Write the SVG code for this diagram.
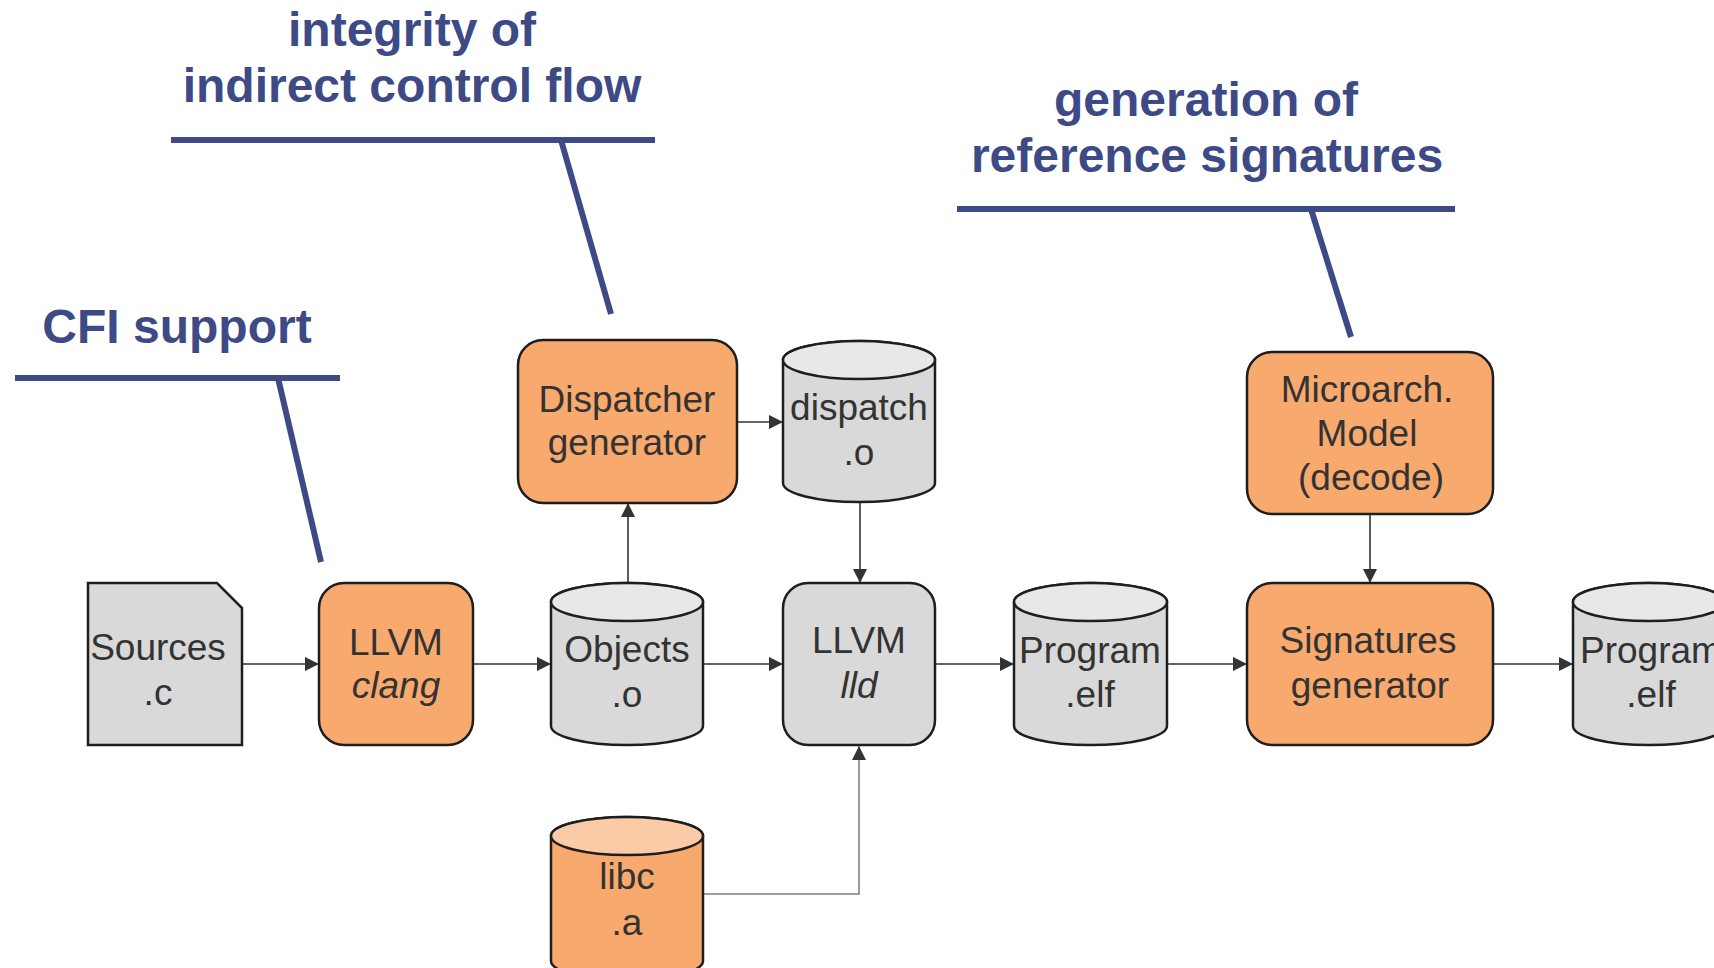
<svg xmlns="http://www.w3.org/2000/svg" width="1714" height="968" viewBox="0 0 1714 968">
<defs>
<style>
.lbl{font-family:"Liberation Sans",Arial,sans-serif;font-weight:bold;font-size:48px;fill:#3D4A86;text-anchor:middle}
.cal{stroke:#3D4A86;stroke-width:6;fill:none}
.t{font-family:"Liberation Sans",Arial,sans-serif;font-size:37px;fill:#333333;text-anchor:middle}
.it{font-style:italic}
.orange{fill:#F8A96E;stroke:#1E1E1E;stroke-width:2.5}
.gray{fill:#D9D9D9;stroke:#1E1E1E;stroke-width:2.5}
.graytop{fill:#E8E8E8;stroke:#1E1E1E;stroke-width:2.5}
.orangetop{fill:#FBCBA8;stroke:#1E1E1E;stroke-width:2.5}
.edge{stroke:#333333;stroke-width:1.6;fill:none;marker-end:url(#arr)}
.edge2{stroke:#808080;stroke-width:1.6;fill:none;marker-end:url(#arr)}
</style>
<marker id="arr" markerUnits="userSpaceOnUse" markerWidth="14" markerHeight="14" refX="14" refY="7" orient="auto">
<path d="M0,0 L14,7 L0,14 Z" fill="#333333"/>
</marker>
</defs>
<rect width="1714" height="968" fill="#FFFFFF"/>

<g id="callouts">
<text class="lbl" x="412" y="46">integrity of</text>
<text class="lbl" x="412" y="102">indirect control flow</text>
<line class="cal" x1="171" y1="140" x2="655" y2="140"/>
<line class="cal" x1="561" y1="140" x2="611" y2="314"/>
<text class="lbl" x="177" y="343">CFI support</text>
<line class="cal" x1="15" y1="378" x2="340" y2="378"/>
<line class="cal" x1="278" y1="378" x2="321" y2="562"/>
<text class="lbl" x="1206" y="116">generation of</text>
<text class="lbl" x="1207" y="172">reference signatures</text>
<line class="cal" x1="957" y1="209" x2="1455" y2="209"/>
<line class="cal" x1="1311" y1="209" x2="1351" y2="337"/>
</g>

<g id="connectors">
<line class="edge" x1="242" y1="664" x2="319" y2="664"/>
<line class="edge" x1="473" y1="664" x2="551" y2="664"/>
<line class="edge" x1="703" y1="664" x2="783" y2="664"/>
<line class="edge" x1="935" y1="664" x2="1014" y2="664"/>
<line class="edge" x1="1167" y1="664" x2="1247" y2="664"/>
<line class="edge" x1="1493" y1="664" x2="1573" y2="664"/>
<line class="edge" x1="628" y1="583" x2="628" y2="503"/>
<line class="edge" x1="737" y1="422" x2="783" y2="422"/>
<line class="edge" x1="860" y1="503" x2="860" y2="583"/>
<line class="edge" x1="1370" y1="514" x2="1370" y2="583"/>
<path class="edge2" d="M703,894 H859 V746"/>
</g>

<g id="sources">
<path class="gray" d="M88,583 H217 L242,608 V745 H88 Z"/>
<text class="t" x="158" y="660">Sources</text>
<text class="t" x="158" y="705">.c</text>
</g>

<g id="clang">
<rect class="orange" x="319" y="583" width="154" height="162" rx="25"/>
<text class="t" x="396" y="655">LLVM</text>
<text class="t it" x="396" y="698">clang</text>
</g>

<g id="objects">
<path class="gray" d="M551,602 A76,19 0 0 1 703,602 V726 A76,19 0 0 1 551,726 Z"/>
<ellipse class="graytop" cx="627" cy="602" rx="76" ry="19"/>
<text class="t" x="627" y="662">Objects</text>
<text class="t" x="627" y="707">.o</text>
</g>

<g id="lld">
<rect class="gray" x="783" y="583" width="152" height="162" rx="25"/>
<text class="t" x="859" y="653">LLVM</text>
<text class="t it" x="859" y="698">lld</text>
</g>

<g id="dispatcher">
<rect class="orange" x="518" y="340" width="219" height="163" rx="25"/>
<text class="t" x="627" y="412">Dispatcher</text>
<text class="t" x="627" y="455">generator</text>
</g>

<g id="dispatch">
<path class="gray" d="M783,360 A76,19 0 0 1 935,360 V483 A76,19 0 0 1 783,483 Z"/>
<ellipse class="graytop" cx="859" cy="360" rx="76" ry="19"/>
<text class="t" x="859" y="420">dispatch</text>
<text class="t" x="859" y="465">.o</text>
</g>

<g id="libc">
<path class="orange" d="M551,836 A76,19 0 0 1 703,836 V961 A76,19 0 0 1 551,961 Z"/>
<ellipse class="orangetop" cx="627" cy="836" rx="76" ry="19"/>
<text class="t" x="627" y="889">libc</text>
<text class="t" x="627" y="935">.a</text>
</g>

<g id="program1">
<path class="gray" d="M1014,602 A76.5,19 0 0 1 1167,602 V726 A76.5,19 0 0 1 1014,726 Z"/>
<ellipse class="graytop" cx="1090.5" cy="602" rx="76.5" ry="19"/>
<text class="t" x="1090" y="663">Program</text>
<text class="t" x="1090" y="707">.elf</text>
</g>

<g id="microarch">
<rect class="orange" x="1247" y="352" width="246" height="162" rx="25"/>
<text class="t" x="1367" y="402">Microarch.</text>
<text class="t" x="1367" y="446">Model</text>
<text class="t" x="1371" y="490">(decode)</text>
</g>

<g id="signatures">
<rect class="orange" x="1247" y="583" width="246" height="162" rx="25"/>
<text class="t" x="1368" y="653">Signatures</text>
<text class="t" x="1370" y="698">generator</text>
</g>

<g id="program2">
<path class="gray" d="M1573,602 A76,19 0 0 1 1725,602 V726 A76,19 0 0 1 1573,726 Z"/>
<ellipse class="graytop" cx="1649" cy="602" rx="76" ry="19"/>
<text class="t" x="1651" y="663">Program</text>
<text class="t" x="1651" y="707">.elf</text>
</g>
</svg>
